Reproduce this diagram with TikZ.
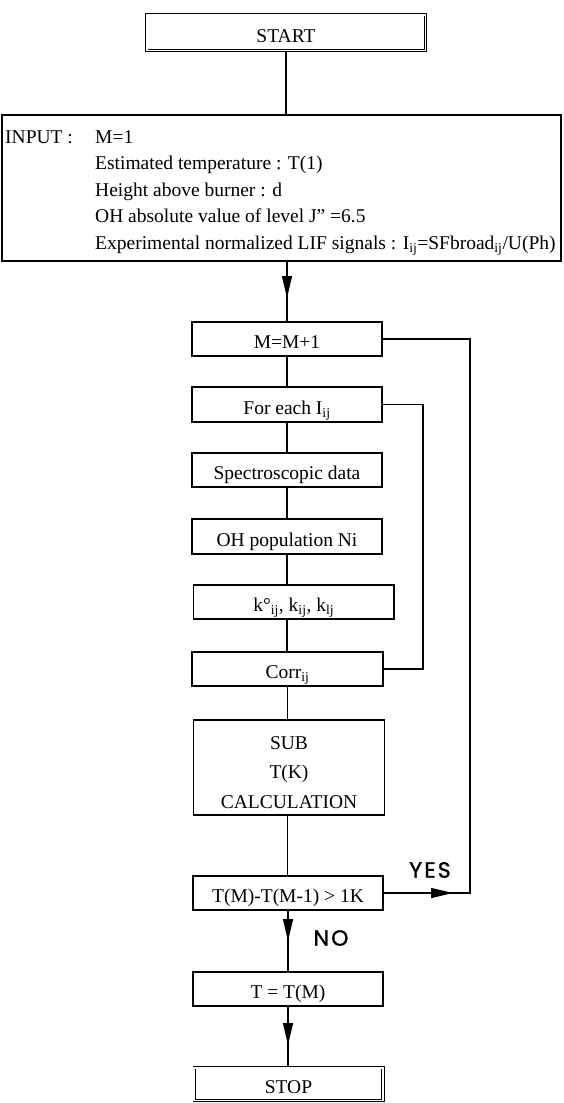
\documentclass[tikz,border=0pt]{standalone}
\usepackage{fontspec}
\setmainfont{Liberation Serif}
\newfontfamily\labfont[LetterSpace=10, FakeBold=1.3]{Poppins}
\usetikzlibrary{arrows.meta}

\begin{document}
\begin{tikzpicture}[x=1pt,y=-1pt,
  every node/.style={font=\fontsize{19.5}{24}\selectfont, inner sep=0pt},
  box/.style={draw, line width=1.1pt, minimum width=190pt, minimum height=34pt, text height=19pt, text depth=0pt},
  dbox/.style={draw, line width=0.9pt, double, double distance=1.6pt, text height=19pt, text depth=0pt},
  conn/.style={line width=1.1pt},
  tip/.style={conn, -{Triangle[length=22pt,width=10pt]}},
  lab/.style={font=\labfont\fontsize{22}{24}\selectfont},
  intext/.style={anchor=base west}
]
\fill[white] (0,0) rectangle (563,1103);
\useasboundingbox (0,0) rectangle (563,1103);

% boxes
\node[dbox, minimum width=278.6pt, minimum height=35.6pt] (start) at (286,32.5) {START};
\node[draw, line width=1.1pt, minimum width=559pt, minimum height=146pt] (inp) at (281.5,188) {};
\node[intext] (inlab) at (5,143) {INPUT :};
\node[intext] (in1) at (95,143) {M=1};
\node[intext] (in2) at (95,169.5) {Estimated temperature : T(1)};
\node[intext] (in3) at (95,196) {Height above burner : d};
\node[intext] (in4) at (95,222.5) {OH absolute value of level J\char"22{} =6.5};
\node[intext] (in5) at (95,249) {Experimental normalized LIF signals : I\textsubscript{ij}=SFbroad\textsubscript{ij}/U(Ph)};

\node[box] (m1) at (287,339) {M=M+1};
\node[box, minimum height=35pt] (fe) at (287,404.5) {For each I\textsubscript{ij}};
\node[box] (sp) at (287,470) {Spectroscopic data};
\node[box, minimum height=35pt] (oh) at (287,536.5) {OH population Ni};
\node[box, minimum width=200.5pt] (kk) at (293.75,602) {k°\textsubscript{ij}, k\textsubscript{ij}, k\textsubscript{lj}};
\node[box, minimum width=191pt] (corr) at (287.5,669) {Corr\textsubscript{ij}};
\node[draw, line width=1.5pt, minimum width=191pt, minimum height=95pt] (sub) at (289,767.5) {};
\node[align=center, font=\fontsize{19.5}{29.5}\selectfont] (subtx) at (289,772.5) {SUB\\T(K)\\CALCULATION};
\node[box] (tm) at (288,893) {T(M)-T(M-1) > 1K};
\node[box] (teq) at (288,989) {T = T(M)};
\node[dbox, minimum width=188.6pt, minimum height=32.6pt] (stop) at (288.5,1084) {STOP};

% labels
\node[lab] (yes) at (430,870) {YES};
\node[lab] (no) at (331,938) {NO};

% arrow tip points
\coordinate (a1) at (287,298);
\coordinate (a2) at (288,941);
\coordinate (a3) at (288,1045);
\coordinate (a4) at (453,893);

% connectors
\draw[conn] (start.south) -- (start.south |- inp.north);
\draw[conn] (m1.north |- inp.south) -- (m1.north);
\draw[tip] (m1.north |- inp.south) -- (a1);
\draw[conn] (m1.south) -- (fe.north);
\draw[conn] (fe.south) -- (sp.north);
\draw[conn] (sp.south) -- (oh.north);
\draw[conn] (oh.south) -- (oh.south |- kk.north);
\draw[conn] (oh.south |- kk.south) -- (oh.south |- corr.north);
\draw[conn] (corr.south) -- (corr.south |- sub.north);
\draw[conn] (corr.south |- sub.south) -- (corr.south |- tm.north);
\draw[conn] (tm.south) -- (teq.north);
\draw[tip] (tm.south) -- (a2);
\draw[conn] (teq.south) -- (a3 |- stop.north);
\draw[tip] (teq.south) -- (a3);

\coordinate (fr) at (423,669);
\draw[conn] (corr.east) -- (fr) |- (fe.east);
\coordinate (yr) at (470,893);
\draw[conn] (tm.east) -- (yr) |- (m1.east);
\draw[tip] (tm.east) -- (a4);
\end{tikzpicture}
\end{document}
